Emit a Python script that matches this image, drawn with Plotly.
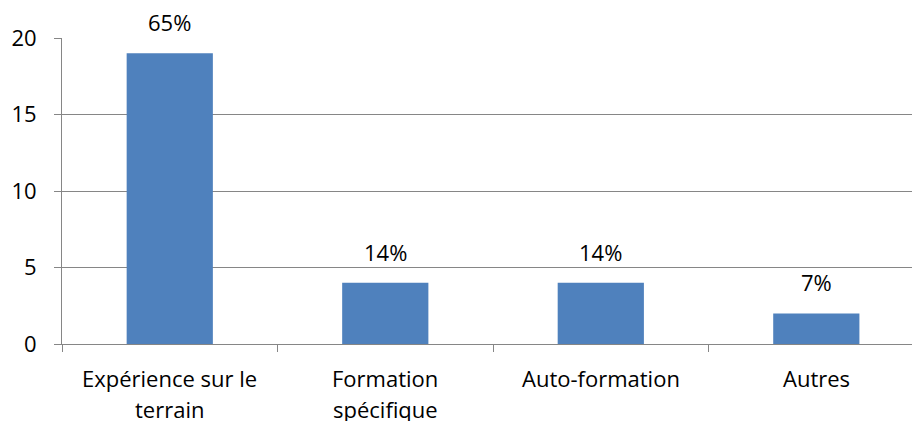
import plotly.graph_objects as go

categories = ["Expérience sur le<br>terrain", "Formation<br>spécifique", "Auto-formation", "Autres"]
values = [19, 4, 4, 2]
labels = ["65%", "14%", "14%", "7%"]
y_ticks = [0, 5, 10, 15, 20]

FONT = "Open Sans"
FS = 22
fig = go.Figure(go.Bar(
    x=categories, y=values,
    marker=dict(color="#4F81BD", line=dict(width=0)),
    hoverinfo="skip",
))

annotations = []
# value labels above bars
for c, v, t in zip(categories, values, labels):
    annotations.append(dict(
        x=c, y=v, xref="x", yref="y", text=t, showarrow=False,
        yanchor="bottom", yshift=14,
        font=dict(family=FONT, size=FS, color="#000000"),
    ))
# category labels (two lines, wide spacing)
for c in categories:
    for i, line in enumerate(c.split("<br>")):
        annotations.append(dict(
            x=c, y=0, xref="x", yref="paper", text=line, showarrow=False,
            yanchor="middle", yshift=-34 - 31 * i,
            font=dict(family=FONT, size=FS, color="#000000"),
        ))

fig.update_layout(
    width=912, height=421,
    margin=dict(l=62, r=0, t=38, b=77),
    paper_bgcolor="white", plot_bgcolor="white",
    bargap=0.6, showlegend=False,
    font=dict(family=FONT, size=FS, color="#000000"),
    annotations=annotations,
)
fig.update_xaxes(
    range=[-0.5, 3.444], showgrid=False,
    showline=True, linecolor="#868686", linewidth=1,
    ticks="outside", tickson="boundaries", ticklen=7, tickcolor="#868686",
    showticklabels=False,
)
fig.update_yaxes(
    range=[0, 20], tickvals=y_ticks,
    showgrid=True, gridcolor="#868686", gridwidth=1,
    showline=True, linecolor="#868686", linewidth=1,
    ticks="outside", ticklen=7, tickcolor="#868686",
    ticklabelstandoff=13, zeroline=False,
    tickfont=dict(family=FONT, size=FS, color="#000000"),
)
fig.write_html("out.html")
